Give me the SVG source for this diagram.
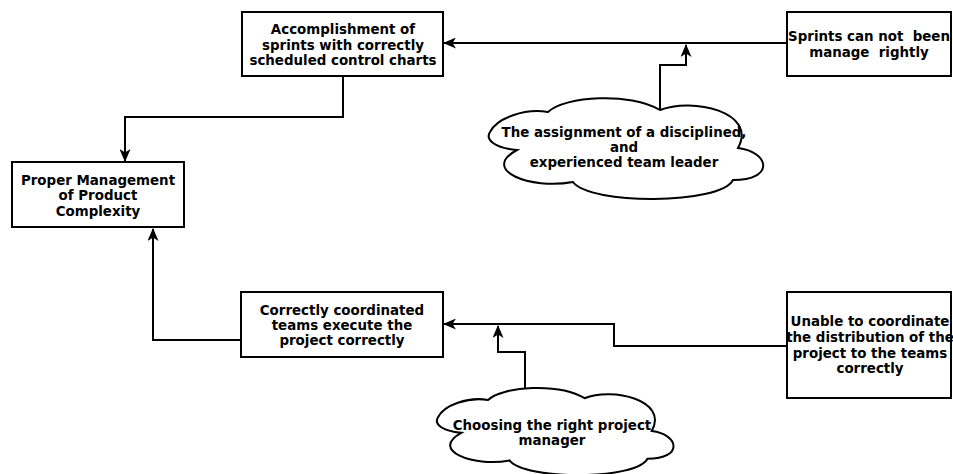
<svg xmlns="http://www.w3.org/2000/svg" width="953" height="474" viewBox="0 0 953 474">
  <style>
    .box { fill: #ffffff; stroke: #000000; stroke-width: 2; }
    .cloud { fill: #ffffff; stroke: #000000; stroke-width: 2; }
    .label { font-family: "DejaVu Sans", "Liberation Sans", Arial, sans-serif; font-weight: bold; font-size: 13.4px; fill: #000000; text-anchor: middle; }
    .link { fill: none; stroke: #000000; stroke-width: 2; marker-end: url(#head); }
  </style>
  <defs>
    <marker id="head" viewBox="0 0 13 11" refX="12" refY="5.5" markerWidth="13" markerHeight="11" markerUnits="userSpaceOnUse" orient="auto">
      <path d="M13,5.5 L0,0 L3.5,5.5 L0,11 Z" fill="#000000"/>
    </marker>
    <!-- cloud outline, 275 x 103 local box -->
    <path id="cloudShape" d="M0,35 C7,21 35,11 58,15 C75,-1 140,-5 170,13 C202,0 268,15 248,51 C280,55 285,83 243,83 C230,108 100,108 83,85 C40,93 -10,73 27,53 C5,51 -5,43 0,35 Z"/>
  </defs>
  <rect width="953" height="474" fill="#ffffff"/>

  <g id="connectors">
    <path class="link" d="M787,43 H444"/>
    <path class="link" d="M660,110 V65 H686 V45"/>
    <path class="link" d="M343,76 V117 H125 V161"/>
    <path class="link" d="M241,340 H153 V229"/>
    <path class="link" d="M787,346 H614 V324 H444"/>
    <path class="link" d="M525,388 V352 H498 V326"/>
  </g>

  <g id="accomplishment">
    <rect class="box" x="242" y="12" width="201" height="64"/>
    <text class="label" x="343" y="34">Accomplishment of</text>
    <text class="label" x="343" y="49.5">sprints with correctly</text>
    <text class="label" x="343" y="65">scheduled control charts</text>
  </g>

  <g id="sprints-unmanaged">
    <rect class="box" x="787" y="12" width="164" height="64"/>
    <text class="label" x="869" y="41" xml:space="preserve">Sprints can not  been</text>
    <text class="label" x="869" y="57" xml:space="preserve">manage  rightly</text>
  </g>

  <g id="product-complexity">
    <rect class="box" x="12" y="162" width="172" height="65"/>
    <text class="label" x="98" y="185">Proper Management</text>
    <text class="label" x="98" y="200">of Product</text>
    <text class="label" x="98" y="215.5">Complexity</text>
  </g>

  <g id="team-leader">
    <use href="#cloudShape" class="cloud" transform="translate(490,97)"/>
    <text class="label" x="624" y="137">The assignment of a disciplined,</text>
    <text class="label" x="624" y="152">and</text>
    <text class="label" x="624" y="167">experienced team leader</text>
  </g>

  <g id="coordinated-teams">
    <rect class="box" x="241" y="292" width="202" height="65"/>
    <text class="label" x="342" y="315">Correctly coordinated</text>
    <text class="label" x="342" y="330">teams execute the</text>
    <text class="label" x="342" y="345">project correctly</text>
  </g>

  <g id="coordination-failure">
    <rect class="box" x="787" y="292" width="164" height="106"/>
    <text class="label" x="870" y="326">Unable to coordinate</text>
    <text class="label" x="870" y="342">the distribution of the</text>
    <text class="label" x="870" y="358">project to the teams</text>
    <text class="label" x="870" y="373">correctly</text>
  </g>

  <g id="project-manager">
    <use href="#cloudShape" class="cloud" transform="translate(438,387) scale(0.862,0.864)" style="stroke-width:2.32"/>
    <text class="label" x="552" y="430">Choosing the right project</text>
    <text class="label" x="552" y="445">manager</text>
  </g>
</svg>
